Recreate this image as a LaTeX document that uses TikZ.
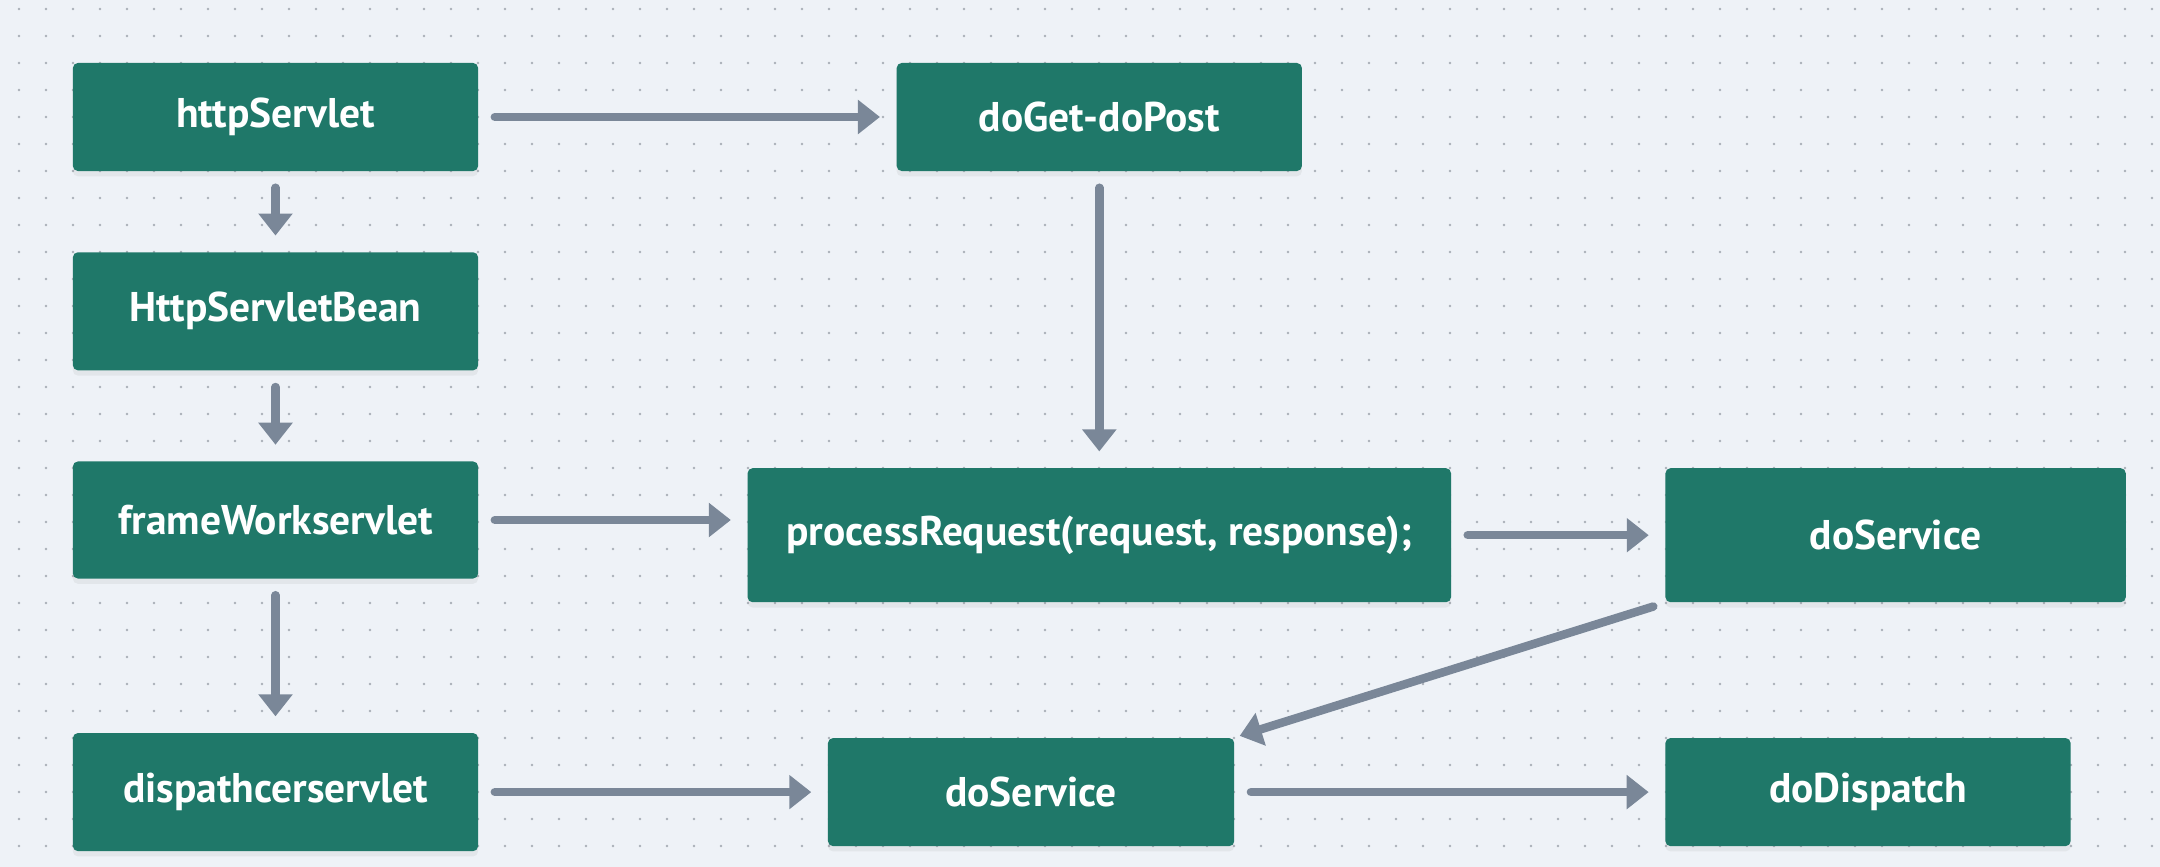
\documentclass[tikz,border=0pt]{standalone}
\usepackage{fontspec}
\setsansfont{PT Sans}
\usepackage{tikz}
\usetikzlibrary{arrows.meta,positioning,shadows}
\definecolor{canvas}{HTML}{EEF2F7}
\definecolor{griddot}{HTML}{A9AFB8}
\definecolor{boxgreen}{HTML}{1F7869}
\definecolor{wire}{HTML}{7A8798}
\tikzset{
  flowbox/.style={rectangle,rounded corners=0.05cm,fill=boxgreen,text=white,
    font=\sffamily\bfseries\fontsize{11.8pt}{14pt}\selectfont,align=center,
    minimum width=4.05cm,minimum height=1.08cm,inner sep=0pt,
    drop shadow={opacity=0.10,shadow xshift=0pt,shadow yshift=-1.5pt}},
  flowarr/.style={-{Triangle[width=0.33cm,length=0.22cm]},line width=0.085cm,
    color=wire,line cap=round,shorten <=0.16cm,shorten >=0.16cm},
}

\begin{document}
\begin{tikzpicture}[x=0.01cm, y=-0.01cm]
  \useasboundingbox (0,0) rectangle (2160,867);
  \fill[canvas] (0,0) rectangle (2160,867);
  % dotted canvas
  \foreach \i in {0,...,79}{
    \foreach \j in {0,...,31}{
      \fill[griddot] (19+27*\i,9+27*\j) circle[radius=0.013cm];
    }
  }

  \node[flowbox] (hs) at (275.5,117) {httpServlet};
  \node[flowbox] (dg) at (1099.3,117) {doGet-doPost};
  \node[flowbox,minimum height=1.18cm] (hsb) at (275.5,311.3) {HttpServletBean};
  \node[flowbox,minimum height=1.17cm] (fw) at (275.5,520) {frameWorkservlet};
  \node[flowbox,minimum width=7.03cm,minimum height=1.34cm] (pr) at (1099.3,535.2) {processRequest(request, response);};
  \node[flowbox,minimum width=4.6cm,minimum height=1.34cm] (dst) at (1895.6,535.2) {doService};
  \node[flowbox,minimum height=1.18cm] (dsp) at (275.5,792.1) {dispathcerservlet};
  \node[flowbox,minimum width=4.06cm] (dsb) at (1031.1,792.1) {doService};
  \node[flowbox] (dd) at (1868,792.1) {doDispatch};

  \draw[flowarr] (hs) -- (dg);
  \draw[flowarr] (hs) -- (hsb);
  \draw[flowarr] (hsb) -- (fw);
  \draw[flowarr] (fw) -- (dsp);
  \draw[flowarr] (dg) -- (pr);
  \draw[flowarr] (fw.east) -- (fw.east -| pr.west);
  \draw[flowarr] (pr) -- (dst);
  \draw[flowarr,shorten <=0.12cm,shorten >=0.05cm] (dst.south west) -- (dsb.north east);
  \draw[flowarr] (dsp) -- (dsb);
  \draw[flowarr] (dsb) -- (dd);
\end{tikzpicture}
\end{document}
